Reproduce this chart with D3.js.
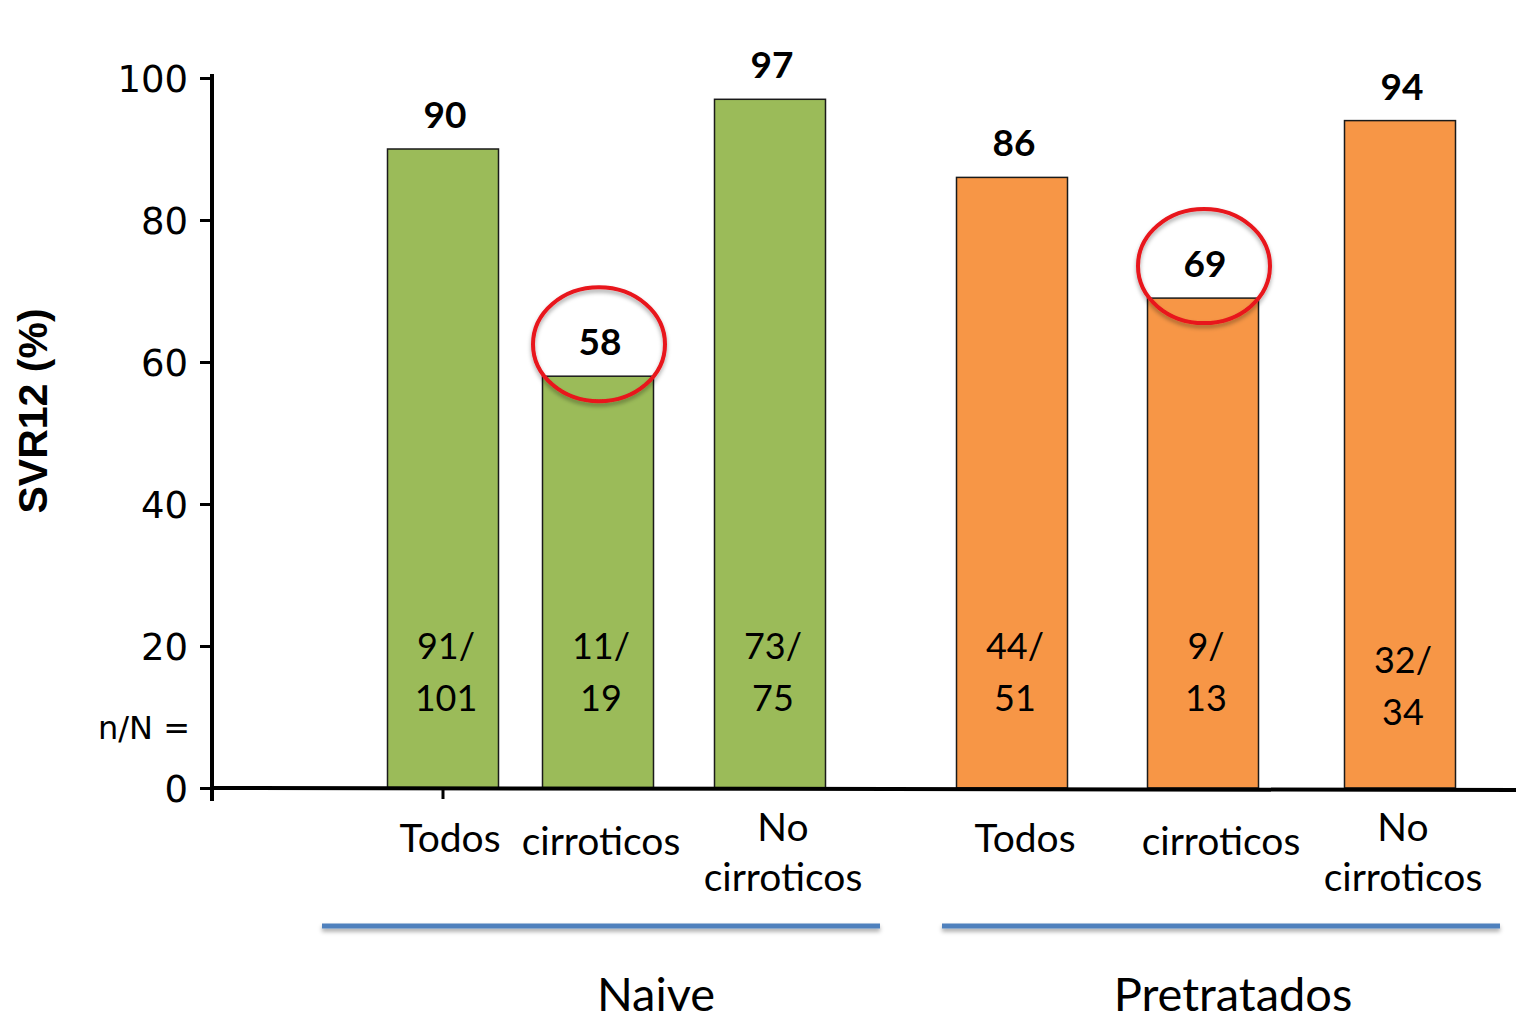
<!DOCTYPE html>
<html>
<head>
<meta charset="utf-8">
<script src="https://cdn.jsdelivr.net/npm/d3@7"></script>
<style>
  html, body { margin: 0; padding: 0; background: #fff; }
  svg { display: block; }
</style>
</head>
<body>
<svg id="chart" width="1518" height="1020"></svg>
<script>
// SVR12 by treatment group and cirrhosis status
const groups = ["Naive", "Pretratados"];
const subgroups = ["Todos", "cirroticos", "No cirroticos"];
const subgroupLines = [["Todos"], ["cirroticos"], ["No", "cirroticos"]];
const naiveValues = [90, 58, 97];
const pretratadosValues = [86, 69, 94];
const naiveCounts = [["91/", "101"], ["11/", "19"], ["73/", "75"]];
const pretratadosCounts = [["44/", "51"], ["9/", "13"], ["32/", "34"]];
const highlighted = ["cirroticos"];
const yTicks = [0, 20, 40, 60, 80, 100];
const groupColors = ["#9bbb59", "#f79646"];

const svg = d3.select("#chart");
const defs = svg.append("defs");
const sh = defs.append("filter").attr("id", "shadow")
  .attr("filterUnits", "userSpaceOnUse")
  .attr("x", 0).attr("y", 0).attr("width", 1518).attr("height", 1020);
sh.append("feDropShadow").attr("dx", 0).attr("dy", 3).attr("stdDeviation", 2)
  .attr("flood-color", "#000").attr("flood-opacity", 0.35);

const y = d3.scaleLinear().domain([0, 100]).range([788, 78]);
const axisX = 212;

// per-group x layout: ordinal scale from subgroup to bar centre
const groupCentres = [[443, 598, 770], [1012, 1203, 1400]];
const xScales = groupCentres.map(r => d3.scaleOrdinal().domain(subgroups).range(r));
const barW = 111;
// small horizontal nudges for category captions
const captionNudge = [[7, 3, 13], [13, 18, 3]];

const rows = [];
groups.forEach((g, gi) => {
  const vals = gi === 0 ? naiveValues : pretratadosValues;
  const cnts = gi === 0 ? naiveCounts : pretratadosCounts;
  subgroups.forEach((s, si) => {
    rows.push({ group: g, gi, sub: s, si, value: vals[si], count: cnts[si],
      cx: xScales[gi](s) });
  });
});

// bars
svg.append("g").selectAll("rect").data(rows).join("rect")
  .attr("x", d => d.cx - barW / 2)
  .attr("y", d => y(d.value))
  .attr("width", barW)
  .attr("height", d => y(0) - y(d.value))
  .attr("fill", d => groupColors[d.gi])
  .attr("stroke", "#1a1a1a")
  .attr("stroke-width", 1.5);

// value labels
svg.append("g").selectAll("text").data(rows).join("text")
  .attr("x", d => d.cx + 2)
  .attr("y", d => y(d.value) - 21)
  .attr("text-anchor", "middle")
  .attr("font-family", "Lato, 'Open Sans', sans-serif")
  .attr("font-weight", "bold")
  .attr("font-size", 37)
  .attr("fill", "#000")
  .text(d => d.value);

// highlight rings
svg.append("g").selectAll("ellipse")
  .data(rows.filter(d => highlighted.includes(d.sub))).join("ellipse")
  .attr("cx", d => d.cx + 1)
  .attr("cy", d => y(d.value) - 32)
  .attr("rx", 66)
  .attr("ry", 57)
  .attr("fill", "none")
  .attr("stroke", "#e8141b")
  .attr("stroke-width", 4)
  .attr("filter", "url(#shadow)");

// n/N labels inside bars
const countG = svg.append("g")
  .attr("font-family", "Lato, 'Open Sans', sans-serif")
  .attr("font-size", 36)
  .attr("fill", "#000")
  .attr("text-anchor", "middle");
rows.forEach(d => {
  const dy = (d.gi === 1 && d.si === 2) ? 14 : 0;
  countG.append("text").attr("x", d.cx + 3).attr("y", y(20) + 13 + dy).text(d.count[0]);
  countG.append("text").attr("x", d.cx + 3).attr("y", y(20) + 65 + dy).text(d.count[1]);
});

// y axis
const yAxis = d3.axisLeft(y).tickValues(yTicks).tickSize(12).tickPadding(12);
const yg = svg.append("g").attr("transform", `translate(${axisX},0)`).call(yAxis);
yg.select(".domain").remove();
yg.selectAll(".tick line").attr("stroke", "#000").attr("stroke-width", 3);
yg.selectAll(".tick text")
  .attr("font-family", "'DejaVu Sans', Verdana, sans-serif")
  .attr("font-size", 37)
  .attr("fill", "#000")
  .attr("dy", "0.36em");
svg.append("line").attr("x1", axisX).attr("x2", axisX)
  .attr("y1", y(100) - 4).attr("y2", y(0) + 13)
  .attr("stroke", "#000").attr("stroke-width", 4);

// x axis baseline and first tick
svg.append("line").attr("x1", axisX).attr("x2", 1516)
  .attr("y1", y(0)).attr("y2", y(0) + 2)
  .attr("stroke", "#000").attr("stroke-width", 4);
svg.append("line").attr("x1", xScales[0](subgroups[0])).attr("x2", xScales[0](subgroups[0]))
  .attr("y1", y(0)).attr("y2", y(0) + 11)
  .attr("stroke", "#000").attr("stroke-width", 3);

svg.append("text")
  .attr("x", 190).attr("y", y(0) - 49)
  .attr("text-anchor", "end")
  .attr("font-family", "'DejaVu Sans', Verdana, sans-serif")
  .attr("font-size", 32)
  .attr("fill", "#000")
  .text("n/N =");

// y title
svg.append("text")
  .attr("transform", "translate(47,411) rotate(-90)")
  .attr("text-anchor", "middle")
  .attr("font-family", "'Liberation Sans', Arial, sans-serif")
  .attr("font-weight", "bold")
  .attr("font-size", 41)
  .attr("fill", "#000")
  .text("SVR12 (%)");

// category labels
const catG = svg.append("g")
  .attr("font-family", "Lato, 'Open Sans', sans-serif")
  .attr("font-size", 39)
  .attr("fill", "#000")
  .attr("text-anchor", "middle");
rows.forEach(d => {
  const lines = subgroupLines[d.si];
  const x = d.cx + captionNudge[d.gi][d.si];
  if (lines.length === 1) {
    catG.append("text").attr("x", x).attr("y", d.si === 1 ? 855 : 852).text(lines[0]);
  } else {
    lines.forEach((t, i) => {
      catG.append("text").attr("x", x).attr("y", 841 + i * 50).text(t);
    });
  }
});

// group brackets and names
const groupSpans = [[322, 880], [942, 1500]];
const groupNameX = [656, 1233];
groups.forEach((g, gi) => {
  const [a, b] = groupSpans[gi];
  svg.append("rect").attr("x", a).attr("y", 923.5).attr("width", b - a).attr("height", 5)
    .attr("fill", "#4f81bd")
    .attr("filter", "url(#shadow)");
  svg.append("text")
    .attr("x", groupNameX[gi]).attr("y", 1011)
    .attr("text-anchor", "middle")
    .attr("font-family", "Lato, 'Open Sans', sans-serif")
    .attr("font-size", 47)
    .attr("fill", "#000")
    .text(g);
});
</script>
</body>
</html>
